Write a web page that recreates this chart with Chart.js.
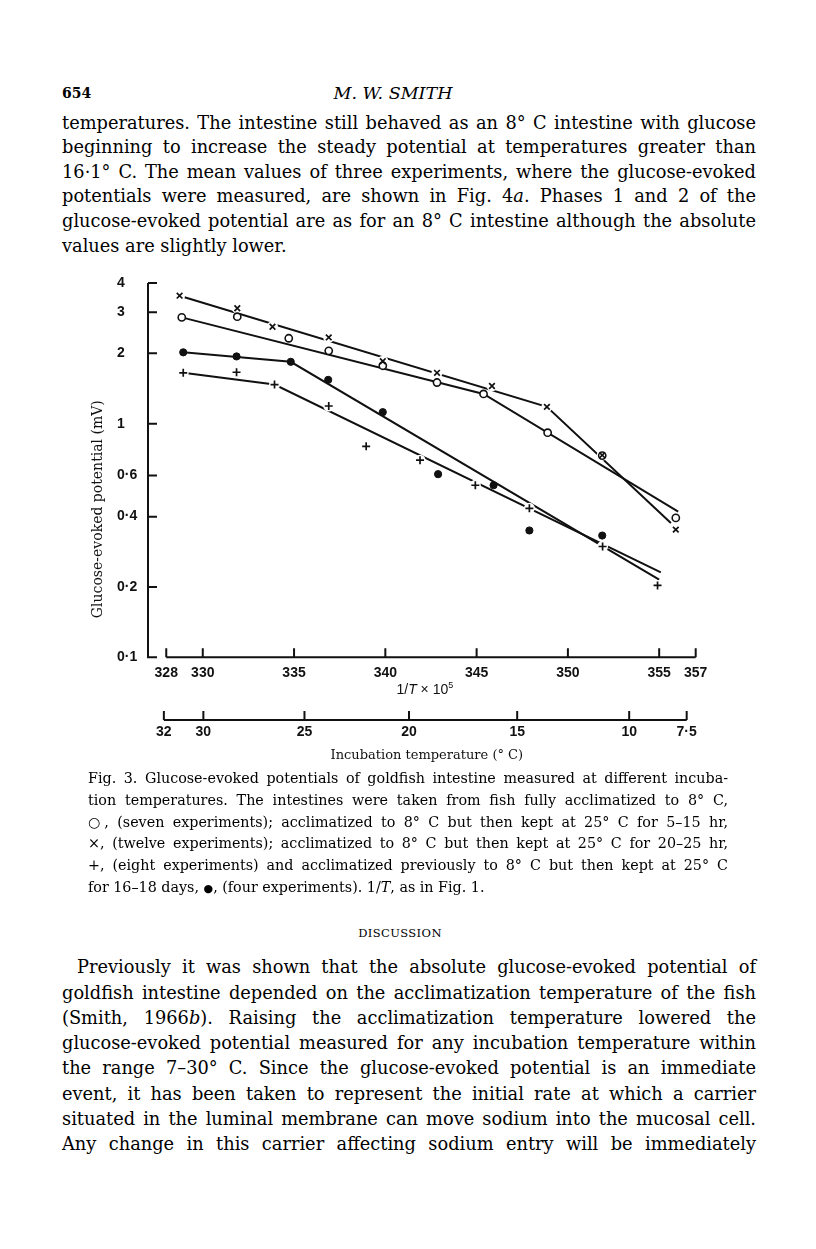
<!DOCTYPE html>
<html lang="en">
<head>
<meta charset="utf-8">
<title>Fig. 3 - glucose-evoked potentials</title>
<script src="https://cdn.jsdelivr.net/npm/chart.js@4.4.1/dist/chart.umd.min.js"></script>
<style>
  html, body { margin: 0; padding: 0; background: #fff; }
  #page { position: relative; width: 816px; height: 1249px; overflow: hidden;
          font-family: "DejaVu Serif", serif; color: #000; }
  .blk { position: absolute; }
  .jl { white-space: nowrap; text-align: justify; text-align-last: justify; }
  .ll { white-space: nowrap; text-align: left; }
  #chartBox { position: absolute; left: 60px; top: 270px; width: 700px; height: 500px; }
</style>
</head>
<body>
<div id="page">
  <div class="blk" style="left:62px; top:82px; font-size:14px; font-weight:bold; line-height:22px;">654</div>
  <div class="blk" style="left:293px; top:81px; width:200px; text-align:center; font-size:17.5px; font-style:italic; line-height:24px;">M. W. SMITH</div>

  <div class="blk" style="left:62px; top:110.7px; width:694px; font-size:17.8px; line-height:24.6px;">
    <div class="jl">temperatures. The intestine still behaved as an 8° C intestine with glucose</div>
    <div class="jl">beginning to increase the steady potential at temperatures greater than</div>
    <div class="jl">16·1° C. The mean values of three experiments, where the glucose-evoked</div>
    <div class="jl">potentials were measured, are shown in Fig. 4<i>a</i>. Phases 1 and 2 of the</div>
    <div class="jl">glucose-evoked potential are as for an 8° C intestine although the absolute</div>
    <div class="ll">values are slightly lower.</div>
  </div>

  <div id="chartBox"><canvas id="fig3" width="700" height="500"></canvas></div>

  <div class="blk" style="left:88px; top:768px; width:640px; font-size:14.3px; line-height:21.8px;">
    <div class="jl">Fig. 3. Glucose-evoked potentials of goldfish intestine measured at different incuba-</div>
    <div class="jl">tion temperatures. The intestines were taken from fish fully acclimatized to 8° C,</div>
    <div class="jl">○, (seven experiments); acclimatized to 8° C but then kept at 25° C for 5–15 hr,</div>
    <div class="jl">×, (twelve experiments); acclimatized to 8° C but then kept at 25° C for 20–25 hr,</div>
    <div class="jl">+, (eight experiments) and acclimatized previously to 8° C but then kept at 25° C</div>
    <div class="ll">for 16–18 days, <span style="font-size:11px;">●</span>, (four experiments). 1/<i>T</i>, as in Fig. 1.</div>
  </div>

  <div class="blk" style="left:300px; top:922px; width:200px; text-align:center; font-size:11.5px; letter-spacing:0.4px; line-height:22px;">DISCUSSION</div>

  <div class="blk" style="left:62px; top:954.3px; width:694px; font-size:17.8px; line-height:25.3px;">
    <div class="jl" style="text-indent:15px;">Previously it was shown that the absolute glucose-evoked potential of</div>
    <div class="jl">goldfish intestine depended on the acclimatization temperature of the fish</div>
    <div class="jl">(Smith, 1966<i>b</i>). Raising the acclimatization temperature lowered the</div>
    <div class="jl">glucose-evoked potential measured for any incubation temperature within</div>
    <div class="jl">the range 7–30° C. Since the glucose-evoked potential is an immediate</div>
    <div class="jl">event, it has been taken to represent the initial rate at which a carrier</div>
    <div class="jl">situated in the luminal membrane can move sodium into the mucosal cell.</div>
    <div class="jl">Any change in this carrier affecting sodium entry will be immediately</div>
  </div>
</div>

<script>
// axes: 1/T x 10^5 along the bottom, potential (mV) on a log scale
const xTicks = [328, 330, 335, 340, 345, 350, 355, 357];
const yTicks = [0.1, 0.2, 0.4, 0.6, 1, 2, 3, 4];
const yTickLabels = ['0·1', '0·2', '0·4', '0·6', '1', '2', '3', '4'];
const tempTicks = [32, 30, 25, 20, 15, 10, 7.5];
const tempTickLabels = ['32', '30', '25', '20', '15', '10', '7·5'];

// fully acclimatized to 8 C (open circles)
const openX = [328.85, 331.89, 334.71, 336.90, 339.86, 342.83, 345.38, 348.89, 351.88, 355.91];
const openY = [2.85, 2.87, 2.32, 2.05, 1.77, 1.50, 1.34, 0.915, 0.73, 0.395];
// 25 C for 5-15 hr (crosses)
const crossX = [328.73, 331.89, 333.82, 336.90, 339.86, 342.83, 345.84, 348.85, 351.88, 355.91];
const crossY = [3.53, 3.12, 2.60, 2.34, 1.85, 1.65, 1.45, 1.18, 0.733, 0.352];
// 25 C for 20-25 hr (plus signs)
const plusX = [328.93, 331.85, 333.93, 336.90, 338.95, 341.90, 344.93, 347.89, 351.90, 354.91];
const plusY = [1.65, 1.66, 1.47, 1.19, 0.80, 0.698, 0.545, 0.434, 0.298, 0.203];
// 25 C for 16-18 days (filled circles)
const dotX = [328.93, 331.85, 334.82, 336.87, 339.86, 342.89, 345.93, 347.89, 351.88];
const dotY = [2.02, 1.94, 1.84, 1.54, 1.12, 0.608, 0.545, 0.349, 0.332];

// the drawn-in lines, corner points
const openFitX = [328.85, 345.38, 356.04];
const openFitY = [2.85, 1.34, 0.420];
const crossFitX = [328.73, 348.85, 355.64];
const crossFitY = [3.53, 1.18, 0.376];
const plusFitX = [328.93, 333.93, 355.09];
const plusFitY = [1.65, 1.47, 0.231];
const dotFitX = [328.93, 334.82, 355.00];
const dotFitY = [2.02, 1.84, 0.215];

const INK = '#111';
const SANS = "'Liberation Sans', Arial, sans-serif";
const SERIF = "'DejaVu Serif', serif";

const pts = (xs, ys) => xs.map((x, i) => ({ x: x, y: ys[i] }));

function fitLine(xs, ys) {
    return {
        data: pts(xs, ys), showLine: true, borderColor: INK, borderWidth: 2,
        pointRadius: 0, tension: 0, order: 3, xAxisID: 'x', yAxisID: 'y'
    };
}
// white disc under a marker so the line breaks round it, as in the print
function halo(xs, ys) {
    return {
        data: pts(xs, ys), showLine: false, pointStyle: 'circle', pointRadius: 5.5,
        pointBackgroundColor: '#fff', pointBorderWidth: 0, order: 2, xAxisID: 'x', yAxisID: 'y'
    };
}
function markers(xs, ys, style, radius, fillColor, width) {
    return {
        data: pts(xs, ys), showLine: false, pointStyle: style, pointRadius: radius,
        pointBackgroundColor: fillColor, pointBorderColor: INK, pointBorderWidth: width,
        order: 1, xAxisID: 'x', yAxisID: 'y'
    };
}

const paperAxes = {
    id: 'paperAxes',
    afterDraw(chart) {
        const { ctx, chartArea } = chart;
        const { x, xT, y } = chart.scales;
        const tick = 9;
        ctx.save();
        ctx.strokeStyle = INK;
        ctx.lineWidth = 2;
        ctx.beginPath();
        // ordinate with ticks pointing inwards
        const left = chartArea.left;
        ctx.moveTo(left, y.getPixelForValue(yTicks[0]) + 1);
        ctx.lineTo(left, y.getPixelForValue(yTicks[yTicks.length - 1]));
        yTicks.forEach(v => {
            const py = y.getPixelForValue(v);
            ctx.moveTo(left, py);
            ctx.lineTo(left + tick, py);
        });
        // 1/T axis
        const base = chartArea.bottom;
        ctx.moveTo(x.getPixelForValue(xTicks[0]), base);
        ctx.lineTo(x.getPixelForValue(xTicks[xTicks.length - 1]), base);
        xTicks.forEach(v => {
            const px = x.getPixelForValue(v);
            ctx.moveTo(px, base);
            ctx.lineTo(px, base - tick);
        });
        // temperature axis
        const tBase = xT.top + 3;
        const tPix = tempTicks.map(t => xT.getPixelForValue(1e5 / (t + 273)));
        ctx.moveTo(tPix[0], tBase);
        ctx.lineTo(tPix[tPix.length - 1], tBase);
        tPix.forEach(px => {
            ctx.moveTo(px, tBase);
            ctx.lineTo(px, tBase - tick);
        });
        ctx.stroke();

        ctx.fillStyle = INK;
        ctx.textBaseline = 'middle';
        // 1/T x 10^5
        const cx = (chartArea.left + chartArea.right) / 2 + 3;
        const ty = x.top + 33;
        const parts = [
            ['1/', '14px ' + SANS, 0],
            ['T', 'italic 14px ' + SANS, 0],
            [' \u00d7 10', '14px ' + SANS, 0],
            ['5', '9px ' + SANS, -5]
        ];
        let total = 0;
        parts.forEach(p => { ctx.font = p[1]; total += ctx.measureText(p[0]).width; });
        let px = cx - total / 2;
        ctx.textAlign = 'left';
        parts.forEach(p => {
            ctx.font = p[1];
            ctx.fillText(p[0], px, ty + p[2]);
            px += ctx.measureText(p[0]).width;
        });
        // temperature title
        ctx.textAlign = 'center';
        ctx.font = '13px ' + SERIF;
        ctx.fillText('Incubation temperature (° C)', cx + 2, xT.top + 39);
        // ordinate title
        ctx.translate(38, (chartArea.top + chartArea.bottom) / 2 + 39);
        ctx.rotate(-Math.PI / 2);
        ctx.font = '14px ' + SERIF;
        ctx.fillText('Glucose-evoked potential (mV)', 0, 0);
        ctx.restore();
    }
};

const tickFont = { family: SANS, size: 14, weight: 'bold' };

new Chart(document.getElementById('fig3'), {
    type: 'scatter',
    data: {
        datasets: [
            fitLine(crossFitX, crossFitY),
            fitLine(openFitX, openFitY),
            fitLine(plusFitX, plusFitY),
            fitLine(dotFitX, dotFitY),
            halo(crossX, crossY),
            halo(plusX, plusY),
            markers(crossX, crossY, 'crossRot', 4, INK, 1.7),
            markers(plusX, plusY, 'cross', 4, INK, 1.7),
            markers(openX, openY, 'circle', 3.6, '#fff', 1.6),
            markers(dotX, dotY, 'circle', 3.6, INK, 1)
        ]
    },
    options: {
        responsive: false,
        animation: false,
        devicePixelRatio: 1,
        events: [],
        layout: { padding: { top: 13, left: 57, right: 64.3, bottom: 25 } },
        plugins: { legend: { display: false }, tooltip: { enabled: false } },
        scales: {
            x: {
                type: 'linear', position: 'bottom', min: 327, max: 357,
                grid: { display: false, drawTicks: false }, border: { display: false },
                ticks: {
                    autoSkip: false, maxRotation: 0, minRotation: 0, padding: 7,
                    color: INK, font: tickFont, callback: v => String(v)
                },
                afterBuildTicks: s => { s.ticks = xTicks.map(v => ({ value: v })); },
                afterFit: s => { s.height = 59.7; }
            },
            xT: {
                type: 'linear', position: 'bottom', weight: 1, min: 327, max: 357,
                grid: { display: false, drawTicks: false }, border: { display: false },
                ticks: {
                    autoSkip: false, maxRotation: 0, minRotation: 0, padding: 7,
                    color: INK, font: tickFont, callback: (v, i) => tempTickLabels[i]
                },
                afterBuildTicks: s => { s.ticks = tempTicks.map(t => ({ value: 1e5 / (t + 273) })); },
                afterFit: s => { s.height = 28; }
            },
            y: {
                type: 'logarithmic', position: 'left', min: 0.1, max: 4,
                grid: { display: false, drawTicks: false }, border: { display: false },
                ticks: {
                    autoSkip: false, crossAlign: 'far', padding: 0,
                    color: INK, font: tickFont, callback: (v, i) => yTickLabels[i]
                },
                afterBuildTicks: s => { s.ticks = yTicks.map(v => ({ value: v })); },
                afterFit: s => { s.width = 31; }
            }
        }
    },
    plugins: [paperAxes]
});
</script>
</body>
</html>
